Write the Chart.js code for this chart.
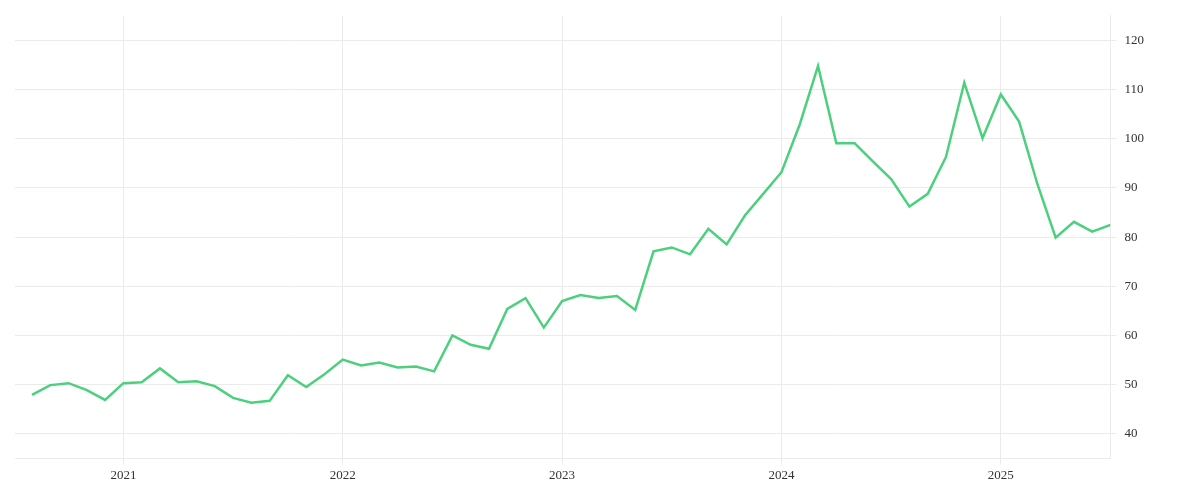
<!DOCTYPE html>
<html>
<head>
<meta charset="utf-8">
<script src="https://cdn.jsdelivr.net/npm/chart.js@4/dist/chart.umd.min.js"></script>
<style>
  html, body { margin: 0; background: #fff; }
  #wrap { width: 1200px; height: 500px; }
</style>
</head>
<body>
<div id="wrap"><canvas id="lineChart"></canvas></div>
<script>
// monthly values, Aug 2020 .. Jul 2025
var startYear = 2020, startMonth = 7; // 0-based month (August)
var values = [
  47.9, 49.9, 50.3, 48.9, 46.9,
  50.3, 50.5, 53.3, 50.5, 50.7, 49.7, 47.3, 46.3, 46.7, 51.9, 49.5, 52.1,
  55.1, 53.9, 54.5, 53.5, 53.7, 52.7, 60.0, 58.1, 57.3, 65.4, 67.6, 61.6,
  67.0, 68.2, 67.6, 68.0, 65.2, 77.1, 77.9, 76.5, 81.7, 78.5, 84.4, 88.8,
  93.2, 102.9, 114.8, 99.1, 99.1, 95.4, 91.8, 86.2, 88.8, 96.3, 111.4, 100.1,
  109.0, 103.5, 90.8, 79.9, 83.1, 81.1, 82.5
];
var yearTicks = [2021, 2022, 2023, 2024, 2025];
var yTicks = [40, 50, 60, 70, 80, 90, 100, 110, 120];

// x = month index from Aug 2020
var points = values.map(function (v, i) { return { x: i, y: v }; });
function yearIndex(y) { return (y - startYear) * 12 - startMonth; }

var ctx = document.getElementById('lineChart').getContext('2d');
new Chart(ctx, {
    type: 'line',
    data: {
        datasets: [{
            data: points,
            borderColor: '#4cd07d',
            borderWidth: 2.5,
            pointRadius: 0,
            tension: 0
        }]
    },
    options: {
        responsive: true,
        maintainAspectRatio: false,
        animation: false,
        layout: { padding: { left: 15, top: 8, right: 48, bottom: 14 } },
        plugins: { legend: { display: false }, tooltip: { enabled: false } },
        scales: {
            x: {
                type: 'linear',
                min: -0.93,
                max: 59,
                afterBuildTicks: function (axis) {
                    axis.ticks = yearTicks.map(function (y) { return { value: yearIndex(y) }; });
                },
                ticks: {
                    callback: function (v) { return String(startYear + Math.floor((v + startMonth) / 12)); },
                    color: '#333',
                    font: { family: 'Liberation Serif', size: 13 },
                    maxRotation: 0
                },
                grid: { color: '#ebebeb', drawTicks: true, tickLength: 6 },
                border: { color: '#ebebeb' }
            },
            y: {
                position: 'right',
                min: 35,
                max: 125,
                afterBuildTicks: function (axis) {
                    axis.ticks = yTicks.map(function (v) { return { value: v }; });
                },
                ticks: {
                    color: '#333',
                    font: { family: 'Liberation Serif', size: 13 },
                    padding: 8
                },
                grid: { color: '#ebebeb', tickLength: 6 },
                border: { color: '#ebebeb' }
            }
        }
    }
});
</script>
</body>
</html>
